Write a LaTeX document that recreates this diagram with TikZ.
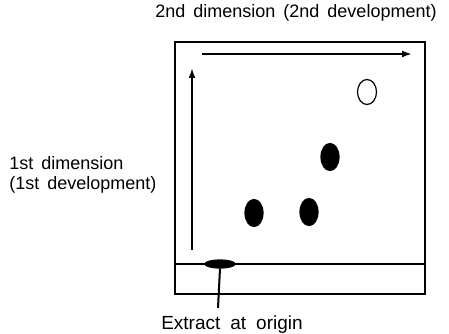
\documentclass[tikz,border=0pt]{standalone}
\usepackage{fontspec}
\setmainfont{Liberation Sans}
\usetikzlibrary{arrows.meta, positioning, shapes.geometric}

\newcommand\labelfont[2]{\fontsize{#1}{20}\selectfont\spaceskip=#2\relax}

\begin{document}
\begin{tikzpicture}[
    x=1pt, y=-1pt,
    thick,
    spot/.style={ellipse, draw, line width=1.2pt, inner sep=0pt,
        minimum width=18pt, minimum height=27pt},
    dev/.style={-{Latex[length=10pt,width=7pt]}, line width=2.4pt},
    lbl/.style={font=\labelfont{18}{8pt}, align=left, inner sep=0pt}
]

\useasboundingbox (0,0) rectangle (449,334);

% plate and start line
\draw[line width=2pt] (175,42) rectangle (425,294);
\draw[line width=1.4pt] (175,264) -- (425,264);

% directions of development
\coordinate (v0) at (192,250);
\coordinate (v1) at (192,68);
\coordinate (h0) at (202,54);
\coordinate (h1) at (412,54);
\draw[dev] (v0) -- (v1);
\draw[dev] (h0) -- (h1);

% spots
\node[spot, fill, minimum width=30pt, minimum height=8pt] (origin) at (220,264) {};
\node[spot, fill] (s1) at (254,213) {};
\node[spot, fill] (s2) at (309,212) {};
\node[spot, fill] (s3) at (330,157) {};
\node[spot, minimum width=19pt, minimum height=25pt] (s4) at (367,92) {};

% labels
\node[lbl] (dim2) at (296,13) {2nd dimension (2nd development)};
\node[lbl, anchor=west] (dim1) at (9,175) {1st dimension\\(1st development)};
\node[lbl, anchor=base, font=\labelfont{19}{10pt}] (ext) at (232,329) {Extract at origin};

\draw[line width=2pt] (218,308) -- (origin.south);

\end{tikzpicture}
\end{document}
